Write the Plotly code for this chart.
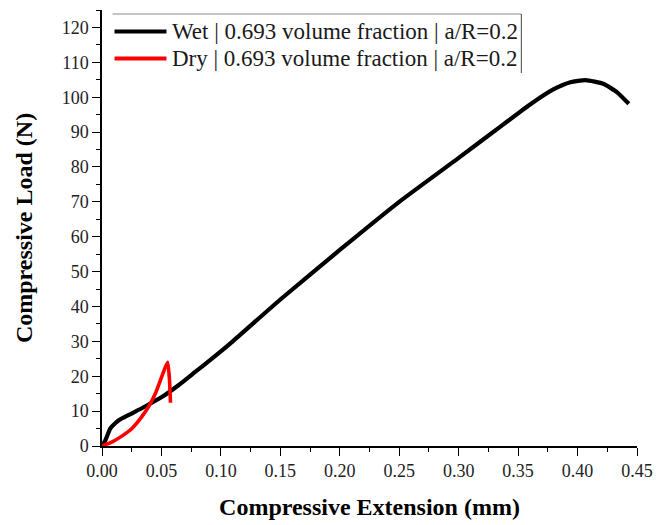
import plotly.graph_objects as go

# Wet | 0.693 volume fraction | a/R=0.2
wet_x = [0.0, 0.0029, 0.0071, 0.0141, 0.0225, 0.0366, 0.0506, 0.0646, 0.0786, 0.0927,
         0.11, 0.15, 0.20, 0.25, 0.30, 0.3379, 0.3604, 0.38, 0.394,
         0.4067, 0.422, 0.4333, 0.4431]
wet_y = [0.0, 1.7, 5.1, 7.4, 8.9, 11.4, 14.1, 17.5, 21.3, 25.1,
         30.0, 42.0, 56.2, 70.0, 82.6, 92.3, 98.0, 102.3, 104.3,
         104.9, 103.8, 101.4, 98.1]

# Dry | 0.693 volume fraction | a/R=0.2
dry_x = [0.0, 0.0086, 0.017, 0.0254, 0.0324, 0.0394, 0.045, 0.0492, 0.0534, 0.0553, 0.0568, 0.0576]
dry_y = [0.0, 1.2, 2.9, 5.1, 7.9, 11.4, 15.1, 18.9, 22.7, 24.0, 18.9, 12.4]

names = ["Wet | 0.693 volume fraction | a/R=0.2", "Dry | 0.693 volume fraction | a/R=0.2"]
colors = ["#000000", "#ff0000"]

x_ticks = [0.0, 0.05, 0.10, 0.15, 0.20, 0.25, 0.30, 0.35, 0.40, 0.45]
x_tick_labels = ["0.00", "0.05", "0.10", "0.15", "0.20", "0.25", "0.30", "0.35", "0.40", "0.45"]
y_ticks = list(range(0, 121, 10))

FONT = "Liberation Serif"
W, H = 668, 525
ML, MR, MT, MB = 101.5, 31.3, 10, 79
PW, PH = W - ML - MR, H - MT - MB


def px_to_paper(px, py):
    return (px - ML) / PW, (H - MB - py) / PH


fig = go.Figure()
fig.add_trace(go.Scatter(x=wet_x, y=wet_y, mode="lines", name=names[0], showlegend=False,
                         line=dict(color=colors[0], width=4.2, shape="spline", smoothing=0.5)))
fig.add_trace(go.Scatter(x=dry_x, y=dry_y, mode="lines", name=names[1], showlegend=False,
                         line=dict(color=colors[1], width=3.6, shape="spline", smoothing=0.4)))

axis_common = dict(showline=True, linecolor="black", linewidth=1.5, ticks="outside",
                   ticklen=8, tickwidth=1.3, tickcolor="black", showgrid=False, zeroline=False,
                   automargin=False,
                   tickfont=dict(family=FONT, size=18, color="#222222"))

fig.update_xaxes(range=[0, 0.45], tickvals=x_ticks, ticktext=x_tick_labels,
                 minor=dict(ticks="outside", ticklen=4, tickwidth=1.2, tickcolor="black", dtick=0.025),
                 title=dict(text="<b>Compressive Extension (mm)</b>", font=dict(family=FONT, size=24, color="black"),
                            standoff=18),
                 **axis_common)
fig.update_yaxes(range=[0, 125], tickvals=y_ticks,
                 minor=dict(ticks="outside", ticklen=4, tickwidth=1.2, tickcolor="black", dtick=5),
                 title=dict(text="<b>Compressive Load (N)</b>", font=dict(family=FONT, size=24, color="black"),
                            standoff=22),
                 **axis_common)

# Legend drawn in the style of the original (top/right frame, long line samples)
shapes = []
x0, y0 = px_to_paper(112, 14)
x1, y1 = px_to_paper(521, 73)
shapes.append(dict(type="line", xref="paper", yref="paper", x0=x0, y0=y0, x1=x1, y1=y0,
                   line=dict(color="#888888", width=1)))
shapes.append(dict(type="line", xref="paper", yref="paper", x0=x1, y0=y0, x1=x1, y1=y1,
                   line=dict(color="#444444", width=1)))
annotations = []
for i, (nm, col) in enumerate(zip(names, colors)):
    row_y = 31.5 + i * 27
    lx0, ly = px_to_paper(114, row_y)
    lx1, _ = px_to_paper(166, row_y)
    shapes.append(dict(type="line", xref="paper", yref="paper", x0=lx0, y0=ly, x1=lx1, y1=ly,
                       line=dict(color=col, width=4.2)))
    tx, _ = px_to_paper(170, row_y)
    annotations.append(dict(xref="paper", yref="paper", x=tx, y=ly, xanchor="left", yanchor="middle",
                            text=nm, showarrow=False,
                            font=dict(family=FONT, size=23, color="#1a1a1a")))

fig.update_layout(
    width=W, height=H,
    margin=dict(l=ML, r=MR, t=MT, b=MB),
    paper_bgcolor="white", plot_bgcolor="white",
    showlegend=False,
    shapes=shapes,
    annotations=annotations,
)

fig.write_html("out.html", config={"displayModeBar": False},
               post_script="document.body.style.margin='0';document.body.style.padding='0';")
